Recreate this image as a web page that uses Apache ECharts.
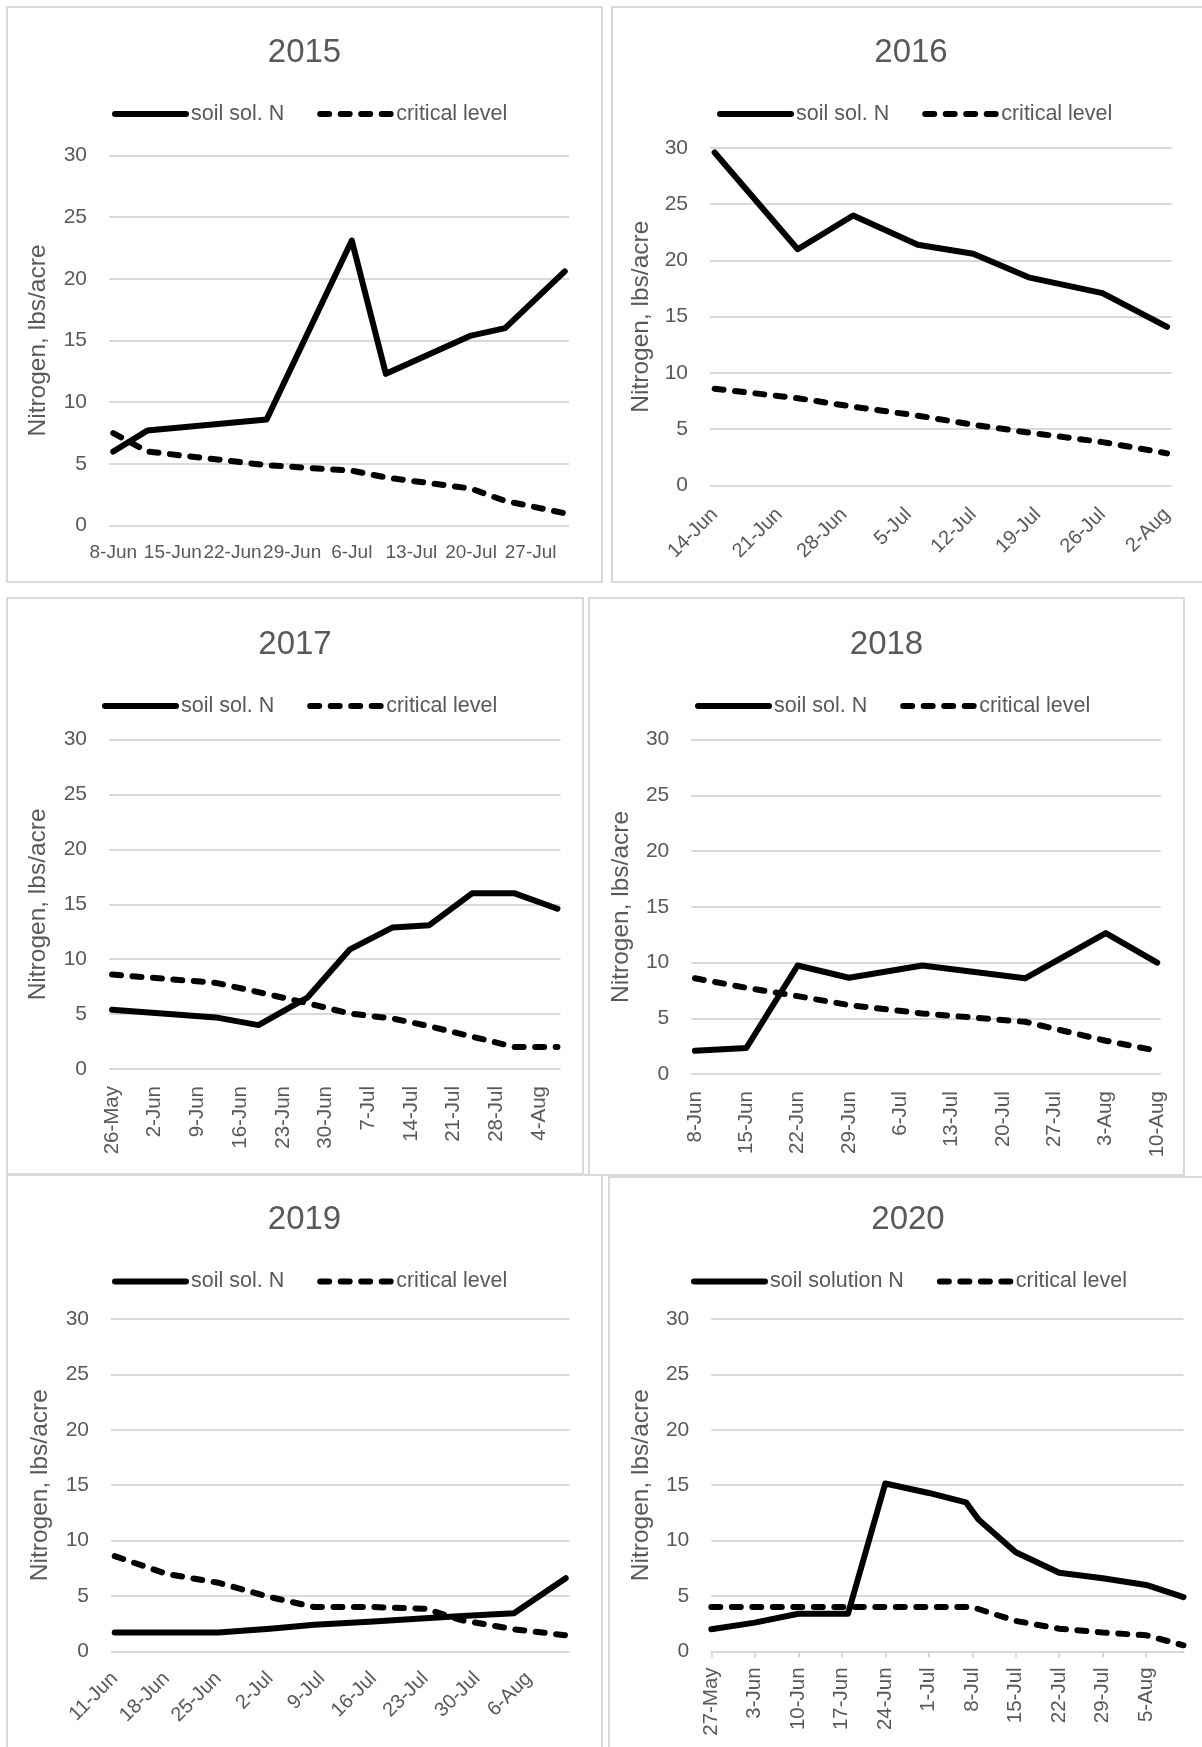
<!DOCTYPE html>
<html>
<head>
<meta charset="utf-8">
<script src="https://cdn.jsdelivr.net/npm/echarts@6/dist/echarts.min.js"></script>
<style>
  html, body { margin: 0; padding: 0; background: #fff; }
  body { width: 1202px; height: 1747px; position: relative; overflow: hidden; }
  .panel { position: absolute; box-sizing: border-box; border: 2px solid #d9d9d9; }
</style>
</head>
<body>
<div id="c2015" class="panel"></div>
<div id="c2016" class="panel"></div>
<div id="c2017" class="panel"></div>
<div id="c2018" class="panel"></div>
<div id="c2019" class="panel"></div>
<div id="c2020" class="panel"></div>
<script>
// ---- data ----
const dates2015 = ['2015-06-08', '2015-06-12', '2015-06-26', '2015-07-06', '2015-07-10', '2015-07-20', '2015-07-24', '2015-07-31'];
const soil2015 = [6.0, 7.7, 8.6, 23.1, 12.3, 15.4, 16.0, 20.6];
const crit2015 = [7.5, 6.0, 4.9, 4.45, 3.9, 3.0, 2.0, 1.0];
const ticks2015 = ['2015-06-08', '2015-06-15', '2015-06-22', '2015-06-29', '2015-07-06', '2015-07-13', '2015-07-20', '2015-07-27'];

const dates2016 = ['2016-06-14', '2016-06-23', '2016-06-29', '2016-07-06', '2016-07-12', '2016-07-18', '2016-07-26', '2016-08-02'];
const soil2016 = [29.6, 21.0, 24.0, 21.4, 20.6, 18.5, 17.1, 14.1];
const crit2016 = [8.6, 7.75, 7.0, 6.2, 5.4, 4.7, 3.85, 2.85];
const ticks2016 = ['2016-06-14', '2016-06-21', '2016-06-28', '2016-07-05', '2016-07-12', '2016-07-19', '2016-07-26', '2016-08-02'];

const dates2017 = ['2017-05-26', '2017-06-12', '2017-06-19', '2017-06-27', '2017-07-04', '2017-07-11', '2017-07-17', '2017-07-24', '2017-07-31', '2017-08-07'];
const soil2017 = [5.4, 4.7, 4.0, 6.5, 10.9, 12.9, 13.1, 16.0, 16.0, 14.6];
const crit2017 = [8.6, 7.85, 7.0, 6.0, 5.05, 4.6, 3.9, 2.95, 2.0, 2.0];
const ticks2017 = ['2017-05-26', '2017-06-02', '2017-06-09', '2017-06-16', '2017-06-23', '2017-06-30', '2017-07-07', '2017-07-14', '2017-07-21', '2017-07-28', '2017-08-04'];

const dates2018 = ['2018-06-08', '2018-06-15', '2018-06-22', '2018-06-29', '2018-07-09', '2018-07-23', '2018-08-03', '2018-08-10'];
const soil2018 = [2.1, 2.35, 9.75, 8.65, 9.75, 8.6, 12.65, 10.0];
const crit2018 = [8.6, 7.75, 7.0, 6.2, 5.45, 4.7, 3.0, 2.1];
const ticks2018 = ['2018-06-08', '2018-06-15', '2018-06-22', '2018-06-29', '2018-07-06', '2018-07-13', '2018-07-20', '2018-07-27', '2018-08-03', '2018-08-10'];

const dates2019 = ['2019-06-11', '2019-06-18', '2019-06-25', '2019-07-02', '2019-07-08', '2019-07-16', '2019-07-23', '2019-07-28', '2019-08-04', '2019-08-11'];
const soil2019 = [1.7, 1.7, 1.7, 2.05, 2.4, 2.7, 3.0, 3.2, 3.45, 6.6];
const crit2019 = [8.6, 7.0, 6.2, 4.9, 4.0, 4.0, 3.85, 2.8, 2.0, 1.45];
const ticks2019 = ['2019-06-11', '2019-06-18', '2019-06-25', '2019-07-02', '2019-07-09', '2019-07-16', '2019-07-23', '2019-07-30', '2019-08-06'];

const soilDates2020 = ['2020-05-27', '2020-06-03', '2020-06-10', '2020-06-18', '2020-06-24', '2020-07-01', '2020-07-07', '2020-07-09', '2020-07-15', '2020-07-22', '2020-07-29', '2020-08-05', '2020-08-11'];
const soil2020 = [2.0, 2.6, 3.4, 3.4, 15.15, 14.3, 13.45, 11.9, 8.95, 7.1, 6.6, 6.0, 4.9];
const critDates2020 = ['2020-05-27', '2020-06-03', '2020-06-10', '2020-06-17', '2020-06-24', '2020-07-01', '2020-07-08', '2020-07-15', '2020-07-22', '2020-07-29', '2020-08-05', '2020-08-11'];
const crit2020 = [4.0, 4.0, 4.0, 4.0, 4.0, 4.0, 4.0, 2.75, 2.05, 1.7, 1.45, 0.55];
const ticks2020 = ['2020-05-27', '2020-06-03', '2020-06-10', '2020-06-17', '2020-06-24', '2020-07-01', '2020-07-08', '2020-07-15', '2020-07-22', '2020-07-29', '2020-08-05'];

const yTicks = [0, 5, 10, 15, 20, 25, 30];
const yName = 'Nitrogen, lbs/acre';
const critName = 'critical level';

// ---- layout ----
const FONT = "'Liberation Sans', Arial, sans-serif";
const TXT = '#595959';
const MON = ['Jan', 'Feb', 'Mar', 'Apr', 'May', 'Jun', 'Jul', 'Aug', 'Sep', 'Oct', 'Nov', 'Dec'];

const dayNum = s => Date.parse(s) / 864e5;
const fmtDay = v => {
  const d = new Date(Math.round(v) * 864e5);
  return d.getUTCDate() + '-' + MON[d.getUTCMonth()];
};

const panels = [
  { id: 'c2015', title: '2015', soilName: 'soil sol. N', soilDates: dates2015, soil: soil2015, critDates: dates2015, crit: crit2015, ticks: ticks2015,
    box: [6, 6, 597, 577], grid: [101, 147.4, 460, 370.2], rotate: 0, labelSize: 19, margin: 18, titleTop: 28.5, legendTop: 95, legendLeft: 104, between: true },
  { id: 'c2016', title: '2016', soilName: 'soil sol. N', soilDates: dates2016, soil: soil2016, critDates: dates2016, crit: crit2016, ticks: ticks2016,
    box: [611, 6, 600, 577], grid: [97, 140, 461.7, 337.4], rotate: 45, labelSize: 20, margin: 26, titleTop: 28.5, legendTop: 95, legendLeft: 104, between: true, nameGap: 52 },
  { id: 'c2017', title: '2017', soilName: 'soil sol. N', soilDates: dates2017, soil: soil2017, critDates: dates2017, crit: crit2017, ticks: ticks2017,
    box: [6, 597, 578, 578], grid: [101, 140.7, 451.5, 329.3], rotate: 90, labelSize: 20.5, margin: 17, titleTop: 29.3, legendTop: 96, legendLeft: 94, between: true },
  { id: 'c2018', title: '2018', soilName: 'soil sol. N', soilDates: dates2018, soil: soil2018, critDates: dates2018, crit: crit2018, ticks: ticks2018,
    box: [588, 597, 597, 579], grid: [101.3, 140.7, 469.5, 334.5], rotate: 90, labelSize: 20.5, margin: 17, titleTop: 29.3, legendTop: 96, legendLeft: 105, between: true },
  { id: 'c2019', title: '2019', soilName: 'soil sol. N', soilDates: dates2019, soil: soil2019, critDates: dates2019, crit: crit2019, ticks: ticks2019,
    box: [6, 1174, 597, 600], grid: [103, 143, 458.4, 332.4], rotate: 45, labelSize: 20, margin: 24, titleTop: 27.4, legendTop: 94.5, legendLeft: 104, between: true },
  { id: 'c2020', title: '2020', soilName: 'soil solution N', soilDates: soilDates2020, soil: soil2020, critDates: critDates2020, crit: crit2020, ticks: ticks2020,
    box: [608, 1176, 600, 600], grid: [101.3, 141, 472.2, 332.4], rotate: 90, labelSize: 20.5, margin: 16, titleTop: 25.4, legendTop: 92.5, legendLeft: 81, between: false, showTicks: true }
];

const pairs = (dates, vals) => dates.map((d, i) => [dayNum(d), vals[i]]);

panels.forEach(p => {
  const el = document.getElementById(p.id);
  el.style.left = p.box[0] + 'px';
  el.style.top = p.box[1] + 'px';
  el.style.width = p.box[2] + 'px';
  el.style.height = p.box[3] + 'px';

  const allDays = p.soilDates.concat(p.critDates).map(dayNum);
  const first = Math.min(...allDays);
  const last = Math.max(...allDays);
  const pad = p.between ? 0.5 : 0;
  const tickDays = p.ticks.map(dayNum);

  const chart = echarts.init(el, null, { renderer: 'canvas' });
  chart.setOption({
    animation: false,
    textStyle: { fontFamily: FONT },
    title: {
      text: p.title, left: 'center', top: p.titleTop, padding: 0,
      textStyle: { fontFamily: FONT, fontSize: 33, fontWeight: 'normal', color: TXT }
    },
    legend: {
      top: p.legendTop, left: p.legendLeft, padding: 0,
      itemWidth: 71, itemHeight: 14, itemGap: 33,
      itemStyle: { opacity: 0 },
      lineStyle: { width: 6 },
      textStyle: { fontFamily: FONT, fontSize: 21.5, color: TXT },
      data: [p.soilName, critName]
    },
    grid: { left: p.grid[0], top: p.grid[1], width: p.grid[2], height: p.grid[3], containLabel: false },
    xAxis: {
      type: 'value',
      min: first - pad,
      max: last + pad,
      splitLine: { show: false },
      axisLine: { show: !!p.showTicks, lineStyle: { color: '#d9d9d9', width: 2 } },
      axisTick: { show: !!p.showTicks, customValues: tickDays, length: 6, lineStyle: { color: '#d9d9d9', width: 2 } },
      axisLabel: {
        customValues: tickDays,
        formatter: fmtDay,
        rotate: p.rotate,
        margin: p.margin,
        fontFamily: FONT,
        fontSize: p.labelSize,
        color: TXT
      }
    },
    yAxis: {
      type: 'value',
      min: yTicks[0], max: yTicks[yTicks.length - 1], interval: yTicks[1] - yTicks[0],
      name: yName,
      nameLocation: 'middle',
      nameGap: p.nameGap || 58,
      nameTextStyle: { fontFamily: FONT, fontSize: 24.5, color: TXT },
      axisLine: { show: false },
      axisTick: { show: false },
      axisLabel: { margin: 22, fontFamily: FONT, fontSize: 21, color: TXT },
      splitLine: { lineStyle: { color: '#d9d9d9', width: 2 } }
    },
    series: [
      {
        name: p.soilName, type: 'line', symbol: 'none', clip: false,
        lineStyle: { color: '#000', width: 6, cap: 'round', join: 'round' },
        itemStyle: { color: '#000', opacity: 0 },
        data: pairs(p.soilDates, p.soil)
      },
      {
        name: critName, type: 'line', symbol: 'none', clip: false,
        lineStyle: { color: '#000', width: 6, type: [9, 11.5], cap: 'round', join: 'round' },
        itemStyle: { color: '#000', opacity: 0 },
        data: pairs(p.critDates, p.crit)
      }
    ]
  });
});
</script>
</body>
</html>
